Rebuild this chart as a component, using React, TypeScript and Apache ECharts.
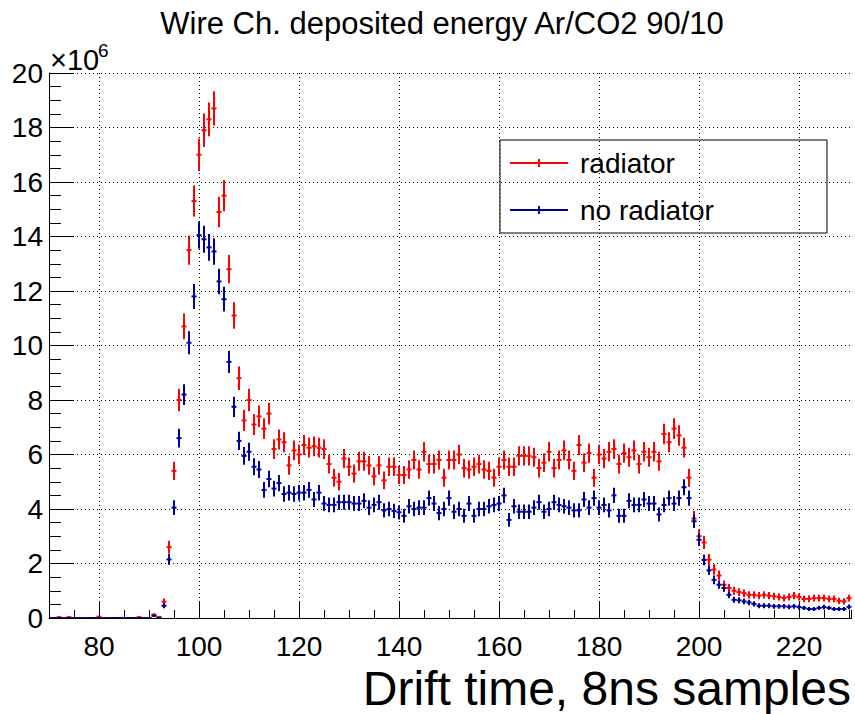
import React, { useEffect, useRef } from "react";
import * as echarts from "echarts";

// Bin centres: one bin per 8 ns sample, from 70 to 230
const X_FIRST = 70;

// Deposited energy (units of 1e6), radiator, bins 70..230
const radiator: number[] = [
  0, 0, 0.03, 0, 0.03, 0, 0, 0, 0, 0, // 70-79
  0.05, 0, 0, 0, 0, 0, 0, 0, 0.03, 0, // 80-89
  0, 0.12, 0.02, 0.6, 2.6, 5.4, 8.0, 10.7, 13.5, 15.3, // 90-99
  17.0, 17.9, 18.3, 18.7, 14.9, 15.5, 12.8, 11.1, 8.8, 7.25, // 100-109
  8.0, 7.1, 7.4, 6.95, 7.5, 6.2, 6.55, 6.45, 5.6, 6.15, // 110-119
  6.0, 6.35, 6.25, 6.3, 6.25, 6.2, 5.65, 5.15, 5.0, 5.85, // 120-129
  5.55, 5.3, 5.75, 5.75, 5.6, 5.2, 5.6, 5.05, 5.55, 5.55, // 130-139
  5.25, 5.25, 5.45, 5.8, 5.45, 6.1, 5.65, 5.65, 5.8, 5.15, // 140-149
  5.8, 5.8, 6.0, 5.5, 5.45, 5.55, 5.65, 5.45, 5.4, 5.15, // 150-159
  5.55, 5.8, 5.55, 5.55, 5.95, 5.95, 5.95, 5.9, 5.5, 5.7, // 160-169
  6.1, 5.5, 5.8, 6.15, 5.8, 5.4, 6.35, 5.7, 6.05, 5.15, // 170-179
  6.0, 5.85, 6.1, 6.2, 5.65, 6.05, 5.9, 6.15, 5.65, 6.1, // 180-189
  5.9, 6.1, 5.75, 6.75, 6.45, 6.95, 6.7, 6.25, 5.15, 3.65, // 190-199
  3.0, 2.77, 2.14, 1.78, 1.56, 1.22, 1.1, 1.0, 0.95, 0.91, // 200-209
  0.85, 0.85, 0.82, 0.85, 0.82, 0.8, 0.77, 0.73, 0.77, 0.82, // 210-219
  0.77, 0.7, 0.7, 0.73, 0.73, 0.73, 0.7, 0.7, 0.63, 0.61, // 220-229
  0.73, // 230
];

// Deposited energy (units of 1e6), no radiator, bins 70..230
const noRadiator: number[] = [
  0, 0, 0, 0, 0, 0, 0, 0, 0, 0, // 70-79
  0, 0, 0, 0, 0, 0, 0, 0, 0, 0, // 80-89
  0, 0.08, 0.02, 0.45, 2.15, 4.05, 6.6, 8.2, 10.1, 11.8, // 90-99
  14.05, 13.9, 13.6, 13.45, 12.35, 11.7, 9.4, 7.75, 6.5, 5.95, // 100-109
  6.1, 5.55, 5.45, 4.7, 5.1, 4.75, 4.95, 4.55, 4.6, 4.55, // 110-119
  4.6, 4.6, 4.7, 4.35, 4.6, 4.2, 4.15, 4.15, 4.25, 4.25, // 120-129
  4.25, 4.2, 4.2, 4.3, 4.05, 4.15, 4.25, 3.95, 4.0, 3.93, // 130-139
  3.88, 3.75, 4.1, 4.0, 4.05, 4.05, 4.4, 4.2, 3.85, 4.0, // 140-149
  4.4, 3.9, 4.0, 3.75, 4.2, 3.75, 4.0, 4.0, 4.1, 4.15, // 150-159
  4.2, 4.5, 3.6, 4.1, 3.9, 3.9, 3.9, 4.05, 4.25, 3.9, // 160-169
  4.0, 4.25, 4.15, 4.1, 4.05, 3.95, 3.95, 4.35, 4.05, 4.4, // 170-179
  4.05, 4.15, 3.95, 4.5, 3.75, 3.75, 4.3, 4.15, 4.15, 4.35, // 180-189
  4.2, 4.2, 3.8, 4.15, 4.4, 4.2, 4.4, 4.8, 4.4, 3.55, // 190-199
  2.87, 2.13, 1.75, 1.4, 1.22, 1.1, 0.85, 0.67, 0.65, 0.61, // 200-209
  0.57, 0.52, 0.45, 0.45, 0.45, 0.43, 0.43, 0.43, 0.41, 0.43, // 210-219
  0.4, 0.37, 0.33, 0.33, 0.37, 0.4, 0.37, 0.33, 0.33, 0.33, // 220-229
  0.41, // 230
];

const xMajorTicks = [80, 100, 120, 140, 160, 180, 200, 220];
const title = "Wire Ch. deposited energy Ar/CO2 90/10";
const xTitle = "Drift time, 8ns samples";
const legendNames = ["radiator", "no radiator"];

const RED = "#ff0000";
const BLUE = "#000099";
const FONT = "'Liberation Sans', Arial, Helvetica, sans-serif";

// statistical error scale (error ~ k * sqrt(content))
const ERR_K_RED = 0.145;
const ERR_K_BLUE = 0.133;

function toPoints(vals: number[], k: number) {
  return vals.map((v, i) => [X_FIRST + i, v, k * Math.sqrt(Math.max(v, 0))]);
}

function makeRender(color: string) {
  return (params: any, api: any) => {
    const x = api.value(0);
    const y = api.value(1);
    const e = api.value(2);
    const c = api.coord([x, y]);
    const hi = api.coord([x, y + e]);
    const lo = api.coord([x, Math.max(0, y - e)]);
    const l = api.coord([x - 0.5, y]);
    const r = api.coord([x + 0.5, y]);
    return {
      type: "group",
      children: [
        {
          type: "line",
          shape: { x1: c[0], y1: hi[1], x2: c[0], y2: lo[1] },
          style: { stroke: color, lineWidth: 2 },
        },
        {
          type: "line",
          shape: { x1: l[0], y1: c[1], x2: r[0], y2: c[1] },
          style: { stroke: color, lineWidth: 2 },
        },
      ],
    };
  };
}

export default function App() {
  const ref = useRef<HTMLDivElement>(null);
  useEffect(() => {
    document.body.style.margin = "0";
    if (!ref.current) return;
    const chart = echarts.init(ref.current, undefined, { renderer: "svg" });
    const gridLeft = 49;
    const gridTop = 73;
    const gridW = 802.5;
    const gridH = 545;
    chart.setOption({
      animation: false,
      backgroundColor: "#ffffff",
      grid: { left: gridLeft, top: gridTop, width: gridW, height: gridH, containLabel: false },
      xAxis: [
        {
          type: "value",
          min: 70,
          max: 230.5,
          position: "bottom",
          axisLine: { show: true, onZero: false, lineStyle: { color: "#000", width: 1 } },
          axisTick: { show: true, inside: true, length: 16, customValues: xMajorTicks, lineStyle: { color: "#000", width: 1 } },
          axisLabel: { show: true, customValues: xMajorTicks, fontSize: 28, color: "#000", fontFamily: FONT, margin: 14 },
          splitLine: { show: false },
        },
        {
          type: "value",
          min: 70,
          max: 230.5,
          interval: 5,
          position: "bottom",
          axisLine: { show: false },
          axisTick: { show: true, inside: true, length: 8, lineStyle: { color: "#000", width: 1 } },
          axisLabel: { show: false },
          splitLine: { show: false },
        },
      ],
      yAxis: {
        type: "value",
        min: 0,
        max: 20,
        interval: 2,
        axisLine: { show: true, onZero: false, lineStyle: { color: "#000", width: 1 } },
        axisTick: { show: true, inside: true, length: 24, lineStyle: { color: "#000", width: 1 } },
        minorTick: { show: true, splitNumber: 4, length: 12, lineStyle: { color: "#000", width: 1 } },
        axisLabel: { fontSize: 28, color: "#000", fontFamily: FONT, margin: 6 },
        splitLine: { show: true, lineStyle: { color: "#000", width: 1, type: [1, 3] } },
      },
      series: [
        {
          type: "custom",
          name: legendNames[0],
          xAxisIndex: 0,
          clip: true,
          renderItem: makeRender(RED),
          data: toPoints(radiator, ERR_K_RED),
          z: 3,
          markLine: {
            silent: true,
            symbol: ["none", "none"],
            label: { show: false },
            lineStyle: { color: "#000", width: 1, type: [1, 3] },
            data: xMajorTicks.map((v) => ({ xAxis: v })),
            z: 1,
          },
        },
        {
          type: "custom",
          name: legendNames[1],
          xAxisIndex: 0,
          clip: true,
          renderItem: makeRender(BLUE),
          data: toPoints(noRadiator, ERR_K_BLUE),
          z: 4,
        },
      ],
      graphic: [
        {
          type: "text",
          x: 442,
          y: 8,
          style: { text: title, fontSize: 31, fill: "#000", fontFamily: FONT, align: "center" },
        },
        {
          type: "text",
          x: 50,
          y: 45,
          style: { text: "×10", fontSize: 29, fill: "#000", fontFamily: FONT },
        },
        {
          type: "text",
          x: 98,
          y: 41,
          style: { text: "6", fontSize: 19, fill: "#000", fontFamily: FONT },
        },
        {
          type: "text",
          right: 4,
          top: 664,
          style: { text: xTitle, fontSize: 48, fill: "#000", fontFamily: FONT },
        },
        {
          type: "group",
          z: 100,
          children: [
            {
              type: "rect",
              shape: { x: 500, y: 140, width: 327, height: 93 },
              style: { fill: "#fff", stroke: "#000", lineWidth: 1 },
            },
            { type: "line", shape: { x1: 510, y1: 163, x2: 568, y2: 163 }, style: { stroke: RED, lineWidth: 2 } },
            { type: "line", shape: { x1: 539, y1: 159, x2: 539, y2: 167 }, style: { stroke: RED, lineWidth: 2 } },
            {
              type: "text",
              x: 580,
              y: 163,
              style: { text: legendNames[0], fontSize: 28, fill: "#000", fontFamily: FONT, verticalAlign: "middle" },
            },
            { type: "line", shape: { x1: 510, y1: 210, x2: 568, y2: 210 }, style: { stroke: BLUE, lineWidth: 2 } },
            { type: "line", shape: { x1: 539, y1: 206, x2: 539, y2: 214 }, style: { stroke: BLUE, lineWidth: 2 } },
            {
              type: "text",
              x: 580,
              y: 210,
              style: { text: legendNames[1], fontSize: 28, fill: "#000", fontFamily: FONT, verticalAlign: "middle" },
            },
          ],
        },
      ],
    });
    return () => chart.dispose();
  }, []);
  return (
    <div
      ref={ref}
      style={{ position: "fixed", left: 0, top: 0, width: 855, height: 714, background: "#fff" }}
    />
  );
}
